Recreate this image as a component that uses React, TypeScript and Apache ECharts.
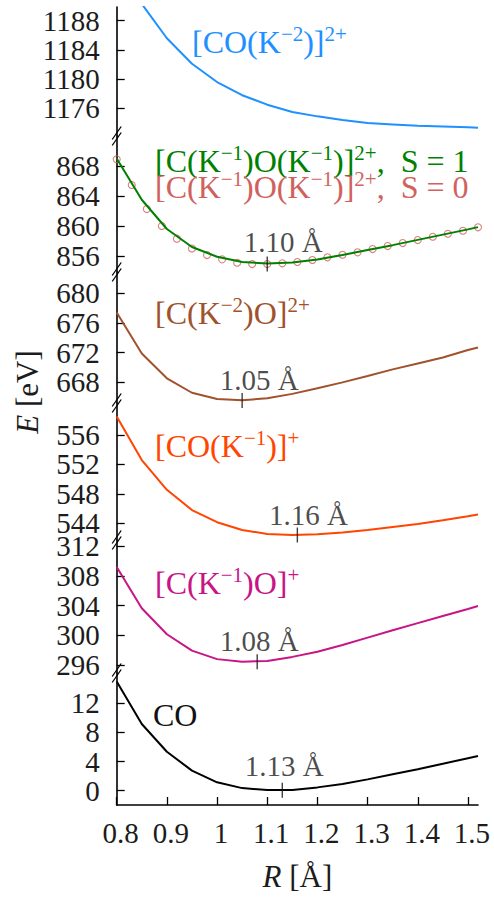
import React, { useEffect, useRef } from "react";
import * as echarts from "echarts";

// ---------- data ----------
const R_LINE = [0.8, 0.85, 0.9, 0.95, 1.0, 1.05, 1.1, 1.15, 1.2, 1.25, 1.3, 1.35, 1.4, 1.45, 1.5, 1.52];
const E_CO_K2 = [1196.5, 1190.3, 1185.6, 1182.1, 1179.6, 1177.8, 1176.5, 1175.5, 1174.9, 1174.4, 1174.0, 1173.8, 1173.6, 1173.5, 1173.4, 1173.35];
const E_CK1OK1_S1 = [869.0, 863.5, 859.6, 857.2, 855.9, 855.2, 855.0, 855.15, 855.55, 856.15, 856.8, 857.45, 858.15, 858.85, 859.55, 859.85];
const R_S0 = [0.8, 0.83, 0.86, 0.89, 0.92, 0.95, 0.98, 1.01, 1.04, 1.07, 1.1, 1.13, 1.16, 1.19, 1.22, 1.25, 1.28, 1.31, 1.34, 1.37, 1.4, 1.43, 1.46, 1.49, 1.52];
const E_CK1OK1_S0 = [868.9, 865.47, 862.27, 860.0, 858.31, 857.0, 856.13, 855.56, 855.1, 854.93, 854.93, 855.03, 855.2, 855.47, 855.83, 856.17, 856.49, 856.93, 857.33, 857.73, 858.13, 858.57, 858.97, 859.37, 859.83];
const E_CK2O = [677.4, 671.9, 668.55, 666.6, 665.75, 665.6, 665.85, 666.45, 667.2, 668.0, 668.85, 669.75, 670.55, 671.35, 672.35, 672.7];
const E_COK1 = [558.5, 552.6, 548.55, 545.8, 544.15, 543.1, 542.55, 542.4, 542.5, 542.75, 543.1, 543.5, 543.9, 544.4, 544.95, 545.2];
const E_CK1O = [309.2, 303.65, 300.15, 297.95, 296.8, 296.45, 296.55, 297.1, 297.8, 298.7, 299.7, 300.7, 301.65, 302.6, 303.55, 303.95];
const E_CO = [15.0, 9.15, 5.35, 2.75, 1.15, 0.35, 0.08, 0.1, 0.45, 0.9, 1.55, 2.25, 2.95, 3.7, 4.45, 4.75];

// equilibrium distances (minimum) per panel: [R, E]
const MIN_CK1OK1 = [1.1, 854.95];
const MIN_CK2O = [1.05, 665.57];
const MIN_COK1 = [1.16, 542.41];
const MIN_CK1O = [1.08, 296.45];
const MIN_CO = [1.13, 0.05];
const MIN_LABELS = ["1.10 Å", "1.05 Å", "1.16 Å", "1.08 Å", "1.13 Å"];

// axes
const X_TICKS = [0.8, 0.9, 1.0, 1.1, 1.2, 1.3, 1.4, 1.5];
const X_TICK_LABELS = ["0.8", "0.9", "1", "1.1", "1.2", "1.3", "1.4", "1.5"];
const Y_TICKS = [
  [1176, 1180, 1184, 1188],
  [856, 860, 864, 868],
  [668, 672, 676, 680],
  [544, 548, 552, 556],
  [296, 300, 304, 308, 312],
  [0, 4, 8, 12],
];
const Y_MIN = [1172.21, 853.87, 665.22, 541.73, 294.93, -1.97];
const Y_MAX = [1189.88, 872.0, 682.87, 560.35, 312.85, 16.16];

// ---------- layout / style ----------
const FONT = "Liberation Serif";
const TXT = "#1c1c1c";
const LEFT = 116.7;
const RIGHT = 478;
const PANEL_TOP = [7, 136, 272, 403, 540, 673];
const PANEL_BOT = [136, 272, 403, 540, 673, 805];

const C_BLUE = "#1E90FF";
const C_GREEN = "#008000";
const C_RED = "#D0625E";
const C_SIENNA = "#A0522D";
const C_ORANGE = "#FF4500";
const C_PINK = "#C71585";
const C_BLACK = "#000";

function zip(xs: number[], ys: number[]) {
  return xs.map((x, i) => [x, ys[i]]);
}

function richStyles(color: string) {
  return {
    b: { fontFamily: FONT, fontSize: 32, lineHeight: 38, fill: color, color },
    s: { fontFamily: FONT, fontSize: 21, lineHeight: 24, verticalAlign: "top", fill: color, color },
  };
}

function annot(text: string, left: number, baseline: number, color: string) {
  return {
    type: "text",
    x: left,
    y: baseline - 11,
    silent: true,
    style: {
      text,
      align: "left",
      verticalAlign: "middle",
      fontFamily: FONT,
      fontSize: 32,
      fill: color,
      rich: richStyles(color),
    },
  };
}

function breakMarks(y: number) {
  const out: any[] = [];
  [-3, 3].forEach((d) => {
    out.push({
      type: "line",
      silent: true,
      shape: { x1: LEFT - 4.5, y1: y + d + 6.5, x2: LEFT + 4.5, y2: y + d - 6.5 },
      style: { stroke: "#000", lineWidth: 1.3 },
    });
  });
  return out;
}

export default function App() {
  const ref = useRef<HTMLDivElement>(null);
  useEffect(() => {
    const chart = echarts.init(ref.current!, null, { renderer: "svg" });

    const grids = PANEL_TOP.map((t, i) => ({
      left: LEFT,
      width: RIGHT - LEFT,
      top: t,
      height: PANEL_BOT[i] - t,
    }));

    const xAxes = PANEL_TOP.map((_, i) => ({
      gridIndex: i,
      type: "value",
      min: 0.8,
      max: 1.52,
      show: i === 5,
      axisLine: { show: true, onZero: false, lineStyle: { color: "#000", width: 1.6 } },
      axisTick: {
        show: true,
        inside: true,
        length: 8,
        customValues: X_TICKS,
        lineStyle: { color: "#000", width: 1.3 },
      },
      axisLabel: {
        customValues: X_TICKS,
        formatter: (v: number) => {
          const idx = X_TICKS.findIndex((t) => Math.abs(t - v) < 1e-6);
          return idx >= 0 ? X_TICK_LABELS[idx] : "";
        },
        fontFamily: FONT,
        fontSize: 29,
        color: TXT,
        margin: 13,
        padding: [0, 0, 0, 8],
      },
      splitLine: { show: false },
    }));

    const yAxes = PANEL_TOP.map((_, i) => ({
      gridIndex: i,
      type: "value",
      min: Y_MIN[i],
      max: Y_MAX[i],
      axisLine: { show: true, onZero: false, lineStyle: { color: "#000", width: 1.6 } },
      axisTick: {
        show: true,
        inside: true,
        length: 8,
        customValues: Y_TICKS[i],
        lineStyle: { color: "#000", width: 1.3 },
      },
      axisLabel: {
        customValues: Y_TICKS[i],
        formatter: (v: number) => String(Math.round(v)),
        fontFamily: FONT,
        fontSize: 29,
        color: TXT,
        margin: 17,
      },
      splitLine: { show: false },
    }));

    const line = (idx: number, ys: number[], color: string, z = 2) => ({
      type: "line",
      xAxisIndex: idx,
      yAxisIndex: idx,
      data: zip(R_LINE, ys),
      symbol: "none",
      showSymbol: false,
      clip: true,
      z,
      lineStyle: { color, width: 2 },
      silent: true,
    });

    const mins = [MIN_CK1OK1, MIN_CK2O, MIN_COK1, MIN_CK1O, MIN_CO];
    const minOffsets = [
      [16, -22],
      [17, -20],
      [11, -20],
      [2, -21],
      [2, -24],
    ];
    const minSeries = mins.map((m, k) => ({
      type: "scatter",
      xAxisIndex: k + 1,
      yAxisIndex: k + 1,
      data: [m],
      symbol: "rect",
      symbolSize: [1.4, 15],
      itemStyle: { color: "#111" },
      z: 5,
      silent: true,
      label: {
        show: true,
        position: "inside",
        offset: minOffsets[k],
        formatter: MIN_LABELS[k],
        fontFamily: FONT,
        fontSize: 29,
        color: TXT,
      },
    }));

    const graphic: any[] = [];
    PANEL_BOT.slice(0, 5).forEach((b) => graphic.push(...breakMarks(b)));
    graphic.push(annot("{b|[CO(K}{s|−2}{b|)]}{s|2+}", 192, 53, C_BLUE));
    graphic.push(annot("{b|[C(K}{s|−1}{b|)O(K}{s|−1}{b|)]}{s|2+}{b|,  S = 1}", 155, 172, C_GREEN));
    graphic.push(annot("{b|[C(K}{s|−1}{b|)O(K}{s|−1}{b|)]}{s|2+}{b|,  S = 0}", 155, 198, C_RED));
    graphic.push(annot("{b|[C(K}{s|−2}{b|)O]}{s|2+}", 155, 324, C_SIENNA));
    graphic.push(annot("{b|[CO(K}{s|−1}{b|)]}{s|+}", 155, 457, C_ORANGE));
    graphic.push(annot("{b|[C(K}{s|−1}{b|)O]}{s|+}", 155, 594, C_PINK));
    graphic.push(annot("{b|CO}", 153, 726, "#111"));
    graphic.push({
      type: "text",
      x: 27,
      y: 392,
      rotation: Math.PI / 2,
      silent: true,
      style: {
        text: "{i|E}{n| [eV]}",
        align: "center",
        verticalAlign: "middle",
        fontFamily: FONT,
        fontSize: 31,
        fill: TXT,
        rich: {
          i: { fontFamily: FONT, fontSize: 31, fontStyle: "italic", fill: TXT },
          n: { fontFamily: FONT, fontSize: 31, fill: TXT },
        },
      },
    });
    graphic.push({
      type: "text",
      x: (LEFT + RIGHT) / 2,
      y: 876,
      silent: true,
      style: {
        text: "{i|R}{n| [Å]}",
        align: "center",
        verticalAlign: "middle",
        fontFamily: FONT,
        fontSize: 31,
        fill: TXT,
        rich: {
          i: { fontFamily: FONT, fontSize: 31, fontStyle: "italic", fill: TXT },
          n: { fontFamily: FONT, fontSize: 31, fill: TXT },
        },
      },
    });

    chart.setOption({
      animation: false,
      backgroundColor: "#fff",
      textStyle: { fontFamily: FONT },
      grid: grids,
      xAxis: xAxes,
      yAxis: yAxes,
      series: [
        line(0, E_CO_K2, C_BLUE),
        {
          type: "scatter",
          xAxisIndex: 1,
          yAxisIndex: 1,
          data: zip(R_S0, E_CK1OK1_S0),
          symbol: "circle",
          symbolSize: 7,
          z: 2,
          silent: true,
          itemStyle: { color: "rgba(0,0,0,0)", borderColor: C_RED, borderWidth: 1.1 },
        },
        line(1, E_CK1OK1_S1, C_GREEN, 3),
        line(2, E_CK2O, C_SIENNA),
        line(3, E_COK1, C_ORANGE),
        line(4, E_CK1O, C_PINK),
        line(5, E_CO, C_BLACK),
        ...minSeries,
      ],
      graphic,
    });
    return () => chart.dispose();
  }, []);
  return (
    <div
      ref={ref}
      style={{ position: "absolute", left: 0, top: 0, width: 494, height: 897, background: "#fff" }}
    />
  );
}
